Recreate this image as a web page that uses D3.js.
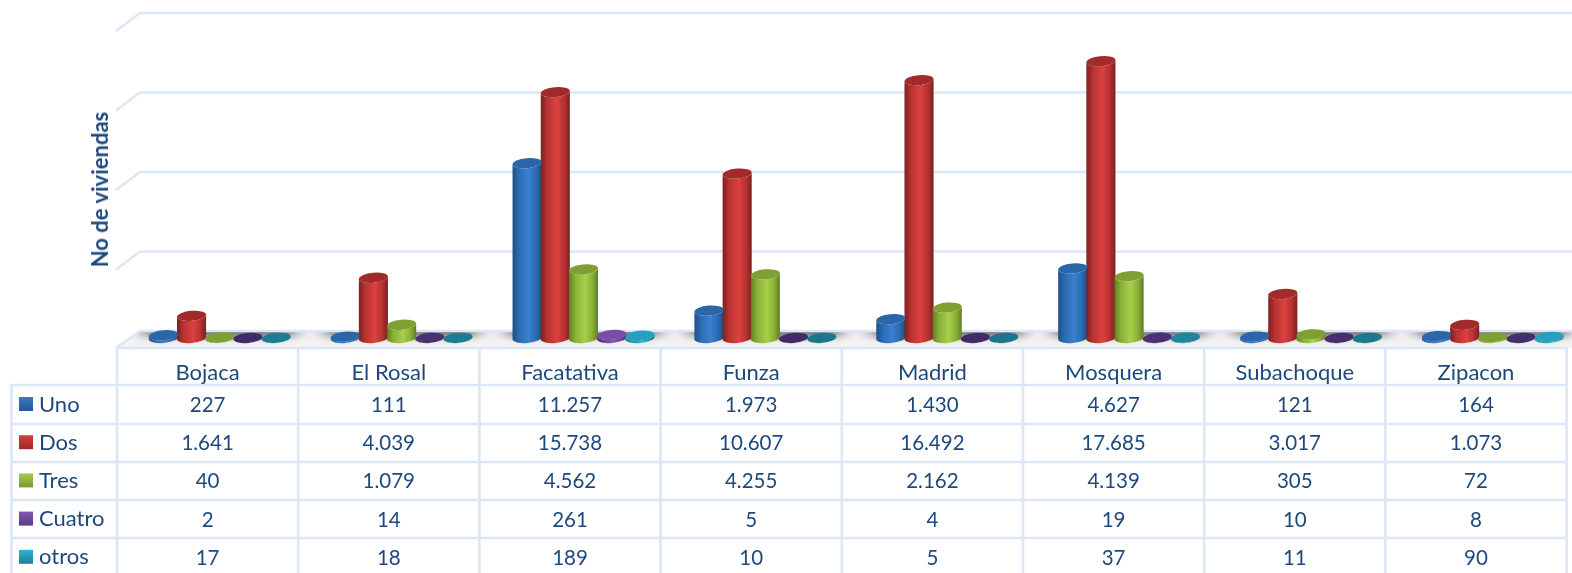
<!DOCTYPE html>
<html>
<head>
<meta charset="utf-8">
<script src="https://cdn.jsdelivr.net/npm/d3@7"></script>
<style>
html,body{margin:0;padding:0;background:#fff;overflow:hidden}
svg{display:block}
text{font-family:Lato,"Open Sans",sans-serif;fill:#1f497d}
</style>
</head>
<body>
<svg id="c" width="1572" height="573"></svg>
<script>
const categories = ["Bojaca","El Rosal","Facatativa","Funza","Madrid","Mosquera","Subachoque","Zipacon"];
const seriesNames = ["Uno","Dos","Tres","Cuatro","otros"];
const uno    = [227,111,11257,1973,1430,4627,121,164];
const dos    = [1641,4039,15738,10607,16492,17685,3017,1073];
const tres   = [40,1079,4562,4255,2162,4139,305,72];
const cuatro = [2,14,261,5,4,19,10,8];
const otros  = [17,18,189,10,5,37,11,90];
const gridTicks = [0,5000,10000,15000,20000];
const seriesValues = [uno,dos,tres,cuatro,otros];
const palette = [
  {edge:"#1d4f86",mid:"#2c6bb2",light:"#3a80d0",topLow:"#2a66a8",topHigh:"#2a66a8",swatch:["#3a78c2","#27589a"]},
  {edge:"#7d2020",mid:"#b83232",light:"#dc4040",topLow:"#a32a2a",topHigh:"#a32a2a",swatch:["#d83c3c","#9e2a2a"]},
  {edge:"#5f7f22",mid:"#8bb038",light:"#a6d04a",topLow:"#7ea033",topHigh:"#7ea033",swatch:["#a4cc48","#76992f"]},
  {edge:"#3e2a63",mid:"#6a4596",light:"#8355b5",topLow:"#3f2a66",topHigh:"#7a4ea8",swatch:["#8355b5","#5b3c86"]},
  {edge:"#176375",mid:"#2590ab",light:"#2fb2d2",topLow:"#1c7286",topHigh:"#28a0c0",swatch:["#2fb2d2","#1f7e96"]}
];
const fmt = v => d3.format(",")(v).replace(/,/g,".");

const svg = d3.select("#c");
const defs = svg.append("defs");
const lineColor = "#dbe6f6";

// scales
const xTable = d3.scaleBand().domain(categories).range([117,1566.6]);
const xGroup = d3.scaleBand().domain(categories).range([128.8,1583.8]);
const xSeries = d3.scalePoint().domain(seriesNames).range([-56.4,56.4]);
const yGrid = d3.scaleLinear().domain([0,20000]).range([331,13]);
const yBar = d3.scaleLinear().domain([0,1000,20000]).range([338,326,24.5]);
const rowEdges = [348,385,424,462,500,538,573];

// defs
defs.append("filter").attr("id","soft").append("feGaussianBlur").attr("stdDeviation",0.5);
defs.append("filter").attr("id","softText").append("feGaussianBlur").attr("stdDeviation",0.3);
defs.append("filter").attr("id","shadow").attr("x","-30%").attr("width","160%").attr("y","-150%").attr("height","400%")
  .append("feGaussianBlur").attr("stdDeviation","10 3.5");
defs.append("clipPath").attr("id","floorClip").append("path").attr("d","M116,348L140,331L1572,331L1572,348Z");
palette.forEach((p,i)=>{
  const g = defs.append("linearGradient").attr("id","body"+i).attr("x1",0).attr("x2",1).attr("y1",0).attr("y2",0);
  [[0,p.edge],[0.22,p.mid],[0.55,p.light],[0.8,p.mid],[1,p.edge]].forEach(s=>g.append("stop").attr("offset",s[0]).attr("stop-color",s[1]));
  const s = defs.append("linearGradient").attr("id","sw"+i).attr("x1",0).attr("x2",0).attr("y1",0).attr("y2",1);
  s.append("stop").attr("offset",0).attr("stop-color",p.swatch[0]);
  s.append("stop").attr("offset",1).attr("stop-color",p.swatch[1]);
});

// grid (walls)
const grid = svg.append("g").attr("filter","url(#soft)");
grid.append("g").selectAll("line").data(gridTicks.slice(1)).join("line")
  .attr("x1",140).attr("x2",1572).attr("y1",d=>yGrid(d)).attr("y2",d=>yGrid(d))
  .attr("stroke",lineColor).attr("stroke-width",2.4);
grid.append("g").selectAll("line").data(gridTicks.slice(1)).join("line")
  .attr("x1",116).attr("x2",140).attr("y1",d=>yGrid(d)+18).attr("y2",d=>yGrid(d))
  .attr("stroke",lineColor).attr("stroke-width",2.4);

// floor
const floor = svg.append("g");
floor.append("path").attr("d","M116,348L140,331L1572,331L1572,348Z").attr("fill","#f4f4f4");
const sh = floor.append("g").attr("clip-path","url(#floorClip)");
sh.selectAll("rect.s").data(categories).join("rect").attr("class","s")
  .attr("x",c=>xGroup(c)+16).attr("width",xGroup.bandwidth()-32).attr("y",322).attr("height",15)
  .attr("fill","#6a6a6a").attr("filter","url(#shadow)");
floor.append("path").attr("d","M116,348L140,331L1572,331").attr("fill","none").attr("stroke",lineColor).attr("stroke-width",2.4).attr("filter","url(#soft)");

// cylinders
const rx = 14.6, ry = 5, tilt = -5, rad = tilt*Math.PI/180;
const dx = rx*Math.cos(rad), dy = rx*Math.sin(rad);
const flat = [];
categories.forEach((c,ci)=>seriesNames.forEach((s,si)=>{
  flat.push({c,s,si,v:seriesValues[si][ci]});
}));
const bars = svg.append("g").attr("filter","url(#soft)");
const cx = d => xGroup(d.c)+xGroup.bandwidth()/2+xSeries(d.s);
bars.selectAll("path.b").data(flat).join("path").attr("class","b")
  .attr("fill",d=>`url(#body${d.si})`)
  .attr("d",d=>{
    const x=cx(d), yb=yBar(0), yt=yBar(d.v);
    return `M${x-dx},${yt-dy}L${x-dx},${yb-dy}A${rx},${ry} ${tilt} 0 0 ${x+dx},${yb+dy}L${x+dx},${yt+dy}A${rx},${ry} ${tilt} 0 1 ${x-dx},${yt-dy}Z`;
  });
bars.selectAll("ellipse.t").data(flat).join("ellipse").attr("class","t")
  .attr("rx",rx).attr("ry",ry)
  .attr("transform",d=>`translate(${cx(d)},${yBar(d.v)}) rotate(${tilt})`)
  .attr("fill",d=>d3.interpolateRgb(palette[d.si].topLow,palette[d.si].topHigh)(Math.min(1,d.v/90)));

// table lines
const table = svg.append("g").attr("stroke",lineColor).attr("stroke-width",2.6).attr("filter","url(#soft)");
table.selectAll("line.h").data(rowEdges.slice(0,6)).join("line").attr("class","h")
  .attr("x1",(d,i)=>i===0?116:11).attr("x2",1567)
  .attr("y1",d=>d).attr("y2",d=>d);
const colEdges = categories.map(c=>xTable(c)).concat([xTable.range()[1]]);
table.selectAll("line.v").data(colEdges).join("line").attr("class","v")
  .attr("x1",d=>d).attr("x2",d=>d).attr("y1",348).attr("y2",573);
table.append("line").attr("x1",11.5).attr("x2",11.5).attr("y1",385).attr("y2",573);

// table text
const labelSize = 22, valueSize = 20.5;
const txt = svg.append("g").attr("filter","url(#softText)");
txt.append("g").selectAll("text").data(categories).join("text")
  .attr("x",c=>xTable(c)+xTable.bandwidth()/2).attr("y",371)
  .attr("text-anchor","middle").attr("dominant-baseline","central")
  .attr("font-size",labelSize).text(c=>c);
seriesNames.forEach((s,si)=>{
  const y = 404 + si*38.2;
  svg.append("rect").attr("x",19).attr("y",y-7).attr("width",14).attr("height",14).attr("fill",`url(#sw${si})`);
  txt.append("text").attr("x",39).attr("y",y-1).attr("dominant-baseline","central").attr("font-size",labelSize).text(s);
  txt.append("g").selectAll("text").data(seriesValues[si]).join("text")
    .attr("x",(d,i)=>xTable(categories[i])+xTable.bandwidth()/2).attr("y",y)
    .attr("text-anchor","middle").attr("dominant-baseline","central").attr("font-size",valueSize).text(fmt);
});

// axis title
txt.append("text").attr("transform","translate(99,189.5) rotate(-90)")
  .attr("text-anchor","middle").attr("dominant-baseline","central")
  .attr("font-size",22).attr("font-weight",700).text("No de viviendas");
</script>
</body>
</html>
